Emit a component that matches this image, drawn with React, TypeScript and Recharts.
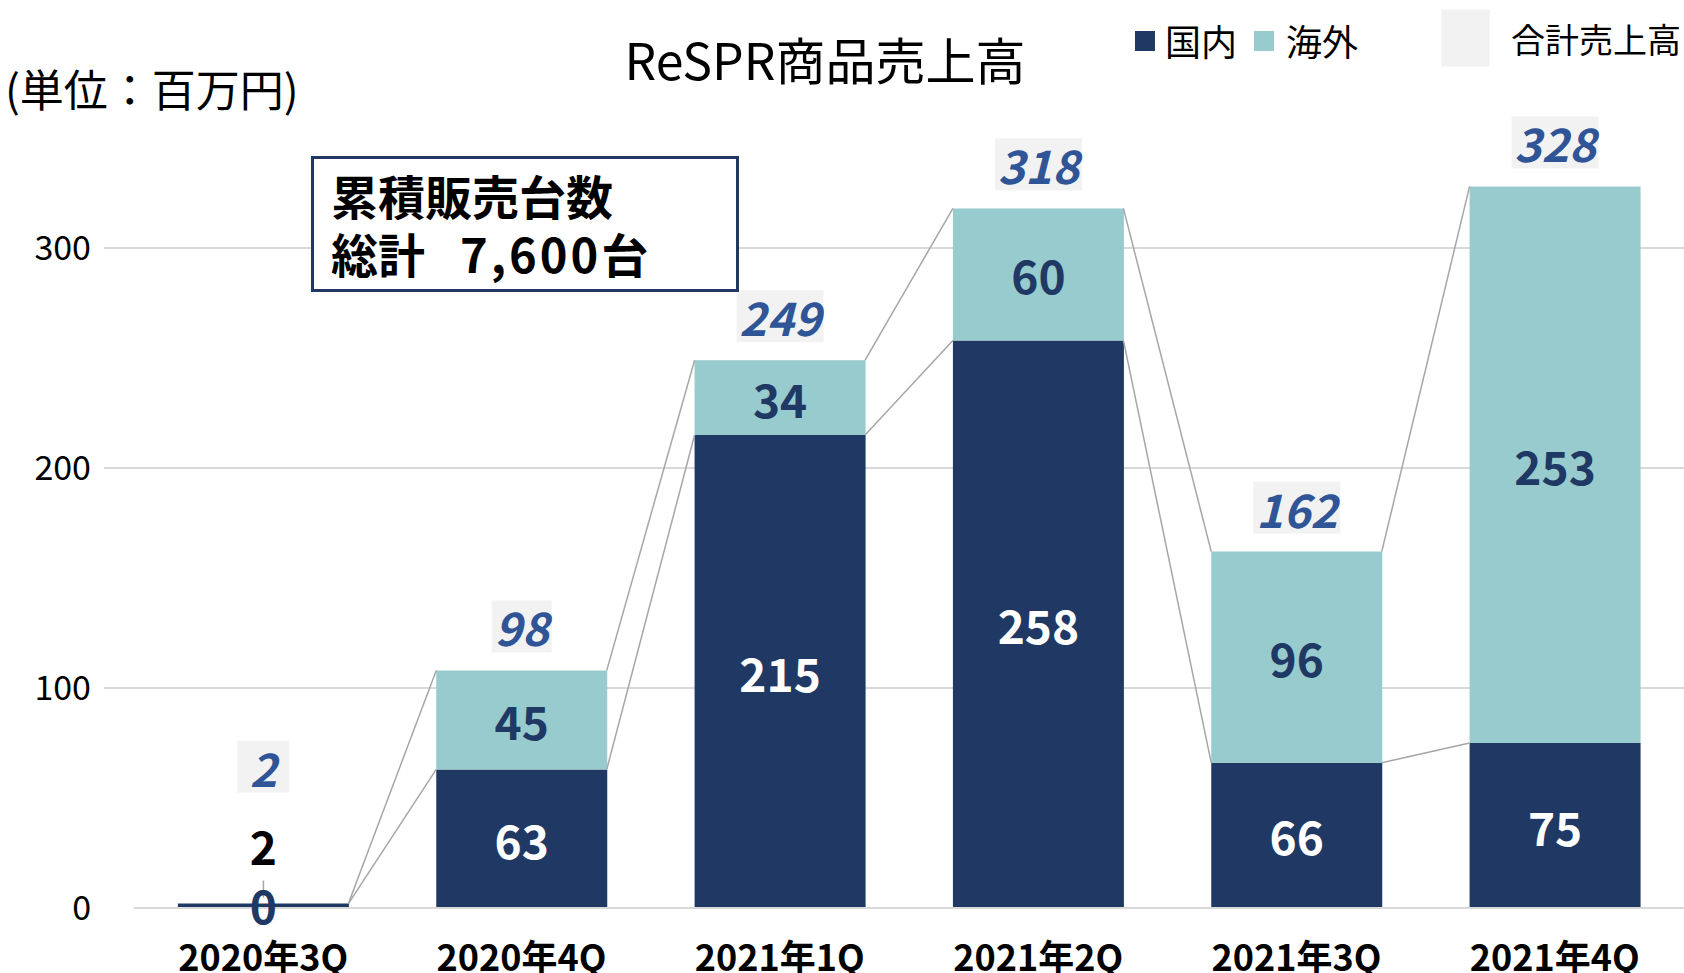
import { BarChart, Bar, XAxis, YAxis, CartesianGrid, ReferenceLine, LabelList } from 'recharts'

const quarters = ['2020年3Q', '2020年4Q', '2021年1Q', '2021年2Q', '2021年3Q', '2021年4Q']
const domestic = [2, 63, 215, 258, 66, 75]
const overseas = [0, 45, 34, 60, 96, 253]
const totals = [2, 98, 249, 318, 162, 328]
const yTicks = [0, 100, 200, 300]

const NAVY = '#203864'
const TEAL = '#97CBCD'
const TOTAL_BLUE = '#2F5597'
const LINE_GRAY = '#A6A6A6'
const FONT = '"Noto Sans CJK JP", "Noto Sans", sans-serif'
const GAP = 0.17

const data = quarters.map((q, i) => ({ q, idx: i + 0.5, domestic: domestic[i], overseas: overseas[i] }))

// series lines between neighbouring stacks (right edge -> next left edge)
const connectors = quarters.slice(0, -1).flatMap((_, i) => [
  [{ x: i + 1 - GAP, y: domestic[i] }, { x: i + 1 + GAP, y: domestic[i + 1] }],
  [{ x: i + 1 - GAP, y: domestic[i] + overseas[i] }, { x: i + 1 + GAP, y: domestic[i + 1] + overseas[i + 1] }],
])

// domestic bar label draws the whole column's labels (domestic, overseas, total)
const StackLabels = (props: any) => {
  const vb = props.viewBox ?? props
  const { x, y, width, height } = vb
  const i = domestic.indexOf(props.value) >= 0 ? domestic.indexOf(props.value) : props.index
  const cx = x + width / 2
  const ppu = height / domestic[i]
  const ovsH = overseas[i] * ppu
  const stackTop = y - ovsH
  const lifted = height < 40
  const totalY = lifted ? y - 137 : stackTop - 44
  const t = String(totals[i])
  const boxW = Math.max(52, t.length * 27 + 6)
  const txt = { textAnchor: 'middle' as const, dominantBaseline: 'central' as const, fontSize: 46, fontWeight: 700, fontFamily: FONT }
  return (
    <g>
      {lifted ? (
        <g>
          <line x1={cx} x2={cx} y1={y - 23} y2={y - 6} stroke={LINE_GRAY} strokeWidth={1.5} />
          <text x={cx} y={y - 59} fill="#000" {...txt}>{domestic[i]}</text>
        </g>
      ) : (
        <text x={cx} y={y + height / 2} fill="#fff" {...txt}>{domestic[i]}</text>
      )}
      <text x={cx} y={y - ovsH / 2} fill={NAVY} {...txt}>{overseas[i]}</text>
      <rect x={cx - boxW / 2} y={totalY - 26} width={boxW} height={52} fill="#F2F2F2" />
      <text x={cx} y={totalY} fill={TOTAL_BLUE} fontStyle="italic" {...txt}>{t}</text>
    </g>
  )
}

const QuarterTick = ({ x, y, payload }: any) => (
  <text x={x} y={y + 47} textAnchor="middle" dominantBaseline="central" fontSize={36} fontWeight={700} fill="#000" fontFamily={FONT}>{payload.value}</text>
)

export default function App() {
  return (
    <div style={{ position: 'absolute', left: 0, top: 0, width: 1684, height: 973, background: '#fff', fontFamily: FONT, overflow: 'hidden' }}>
      <BarChart width={1684} height={973} data={data} margin={{ top: 138, right: 0, bottom: 0, left: 0 }}
        barCategoryGap={`${GAP * 100}%`} style={{ fontFamily: FONT }}>
        <CartesianGrid vertical={false} stroke="#D9D9D9" strokeWidth={2} horizontalValues={[100, 200, 300]} />
        <XAxis dataKey="q" height={65} padding={{ left: 30, right: 0 }} axisLine={false} tickLine={false}
          tickSize={0} tickMargin={0} tick={<QuarterTick />} interval={0} />
        <XAxis xAxisId="num" dataKey="idx" type="number" domain={[0, 6]} allowDataOverflow hide padding={{ left: 30, right: 0 }} />
        <YAxis domain={[0, 350]} ticks={yTicks} width={104} axisLine={false} tickLine={false} tickSize={0} tickMargin={13}
          tick={{ fontSize: 34, fill: '#000', fontFamily: FONT }} />
        <ReferenceLine xAxisId="num" segment={[{ x: 0, y: 0 }, { x: 6, y: 0 }]} stroke="#D9D9D9" strokeWidth={2} />
        <Bar dataKey="domestic" stackId="s" fill={NAVY} isAnimationActive={false}>
          <LabelList dataKey="domestic" content={<StackLabels />} />
        </Bar>
        <Bar dataKey="overseas" stackId="s" fill={TEAL} isAnimationActive={false} />
        {connectors.map((seg, k) => (
          <ReferenceLine key={k} xAxisId="num" segment={seg} stroke={LINE_GRAY} strokeWidth={1.5} ifOverflow="visible" />
        ))}
      </BarChart>

      <div style={{ position: 'absolute', left: 825, top: 33, transform: 'translateX(-50%)', fontSize: 50, lineHeight: 1, whiteSpace: 'nowrap', color: '#000' }}>ReSPR商品売上高</div>
      <div style={{ position: 'absolute', left: 5, top: 66, fontSize: 44, lineHeight: 1, whiteSpace: 'nowrap', color: '#000' }}>(単位：百万円)</div>

      <div style={{ position: 'absolute', left: 1135, top: 31, width: 20, height: 20, background: NAVY }} />
      <div style={{ position: 'absolute', left: 1165, top: 22, fontSize: 36, lineHeight: 1, color: '#000' }}>国内</div>
      <div style={{ position: 'absolute', left: 1254, top: 31, width: 20, height: 20, background: TEAL }} />
      <div style={{ position: 'absolute', left: 1286, top: 22, fontSize: 36, lineHeight: 1, color: '#000' }}>海外</div>
      <div style={{ position: 'absolute', left: 1441, top: 9, width: 49, height: 58, background: '#F2F2F2', border: '1px solid #F7F7F7', boxSizing: 'border-box' }} />
      <div style={{ position: 'absolute', left: 1511, top: 22, fontSize: 34, lineHeight: 1, whiteSpace: 'nowrap', color: '#000' }}>合計売上高</div>

      <div style={{ position: 'absolute', left: 311, top: 156, width: 428, height: 136, boxSizing: 'border-box', border: `3px solid ${NAVY}`, background: '#fff', fontWeight: 700, fontSize: 47, lineHeight: 1, color: '#000' }}>
        <div style={{ position: 'absolute', left: 17, top: 12 }}>累積販売台数</div>
        <div style={{ position: 'absolute', left: 17, top: 70 }}>総計</div>
        <div style={{ position: 'absolute', left: 146, top: 70, letterSpacing: 3 }}>7,600台</div>
      </div>
    </div>
  )
}
